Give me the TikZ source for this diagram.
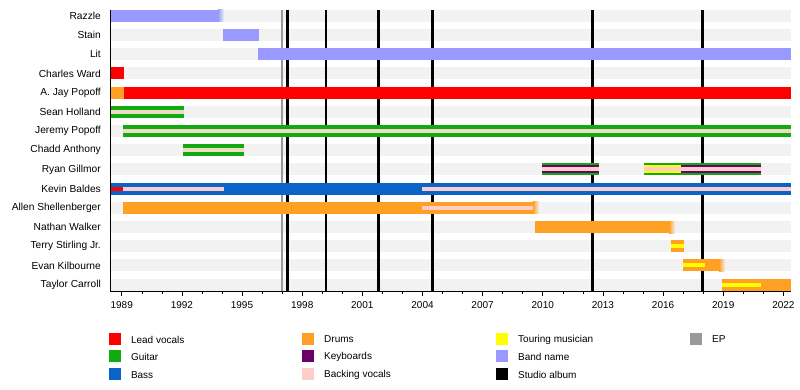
\documentclass[tikz,border=0pt]{standalone}
\usepackage{fontspec}
\setmainfont{Liberation Sans}
\usepackage{tikz, xcolor}

\definecolor{leadvoc}{HTML}{FF0000}
\definecolor{guitar}{HTML}{11AA11}
\definecolor{bass}{HTML}{0A64C8}
\definecolor{drums}{HTML}{FFA024}
\definecolor{keys}{HTML}{6B006B}
\definecolor{backing}{HTML}{FFCCCC}
\definecolor{backgtr}{HTML}{F0DCC4}
\definecolor{touring}{HTML}{FFFF00}
\definecolor{bandname}{HTML}{9999FF}
\definecolor{eprel}{HTML}{999999}
\definecolor{rowbg}{HTML}{F2F2F2}

\begin{document}
\begin{tikzpicture}[x=1pt, y=-1pt]
\tikzstyle{rowlabel}=[anchor=east, inner sep=0pt, font=\fontsize{10.2}{12}\selectfont]
\tikzstyle{yearlabel}=[anchor=center, inner sep=0pt, font=\fontsize{10}{12}\selectfont]
\tikzstyle{keylabel}=[anchor=west, inner sep=0pt, font=\fontsize{10}{12}\selectfont]
\tikzstyle{albumline}=[line width=2.4pt, black]
\tikzstyle{epline}=[line width=2.4pt, eprel]
\tikzstyle{axisline}=[line width=1pt, black]
\tikzstyle{tickmajor}=[line width=0.8pt, black]
\tikzstyle{tickminor}=[line width=0.6pt, black]

\useasboundingbox (0,0) rectangle (800,390);

\fill[rowbg] (110,9.8) rectangle (791,21.8);
\fill[rowbg] (110,29.0) rectangle (791,41.0);
\fill[rowbg] (110,48.2) rectangle (791,60.2);
\fill[rowbg] (110,67.4) rectangle (791,79.4);
\fill[rowbg] (110,86.6) rectangle (791,98.6);
\fill[rowbg] (110,105.8) rectangle (791,117.8);
\fill[rowbg] (110,125.0) rectangle (791,137.0);
\fill[rowbg] (110,144.2) rectangle (791,156.2);
\fill[rowbg] (110,163.4) rectangle (791,175.4);
\fill[rowbg] (110,182.6) rectangle (791,194.6);
\fill[rowbg] (110,201.8) rectangle (791,213.8);
\fill[rowbg] (110,221.0) rectangle (791,233.0);
\fill[rowbg] (110,240.2) rectangle (791,252.2);
\fill[rowbg] (110,259.4) rectangle (791,271.4);
\fill[rowbg] (110,278.6) rectangle (791,290.6);

\draw[epline] (281.7,9.8) -- (281.7,291);
\draw[albumline] (287.3,9.8) -- (287.3,291);
\draw[albumline] (325.7,9.8) -- (325.7,291);
\draw[albumline] (378.3,9.8) -- (378.3,291);
\draw[albumline] (432.3,9.8) -- (432.3,291);
\draw[albumline] (592.3,9.8) -- (592.3,291);
\draw[albumline] (702.3,9.8) -- (702.3,291);

\fill[bandname] (110,9.8) rectangle (218,21.8);
\shade[left color=bandname, right color=rowbg] (218,9.8) rectangle (224,21.8);
\fill[bandname] (223,29.0) rectangle (259,41.0);
\fill[bandname] (258,48.2) rectangle (791,60.2);

\fill[leadvoc] (110,67.4) rectangle (124,79.4);

\fill[drums] (110,86.6) rectangle (124,98.6);
\fill[leadvoc] (124,86.6) rectangle (791,98.6);

\fill[guitar] (110,105.8) rectangle (184,117.8);
\fill[backgtr] (110,109.8) rectangle (184,113.8);

\fill[guitar] (123,125.0) rectangle (791,137.0);
\fill[backgtr] (123,129.0) rectangle (791,133.0);

\fill[guitar] (183,144.2) rectangle (244,156.2);
\fill[backgtr] (183,148.2) rectangle (244,152.2);

\fill[guitar] (542,163.4) rectangle (599,175.4);
\fill[keys] (542,165.4) rectangle (599,173.4);
\fill[backing] (542,167.4) rectangle (599,171.4);
\fill[guitar] (644,163.4) rectangle (761,175.4);
\fill[touring] (644,165.4) rectangle (681,173.4);
\fill[keys] (681,165.4) rectangle (761,173.4);
\fill[backing] (644,167.4) rectangle (761,171.4);

\fill[bass] (110,182.6) rectangle (791,194.6);
\fill[leadvoc] (110,186.6) rectangle (123,190.6);
\fill[backing] (123,186.6) rectangle (224,190.6);
\fill[backing] (422,186.6) rectangle (791,190.6);

\fill[drums] (123,201.8) rectangle (533,213.8);
\fill[backing] (422,205.8) rectangle (533,209.8);
\shade[left color=drums, right color=rowbg] (533,201.8) rectangle (539,213.8);

\fill[drums] (535,221.0) rectangle (669,233.0);
\shade[left color=drums, right color=rowbg] (669,221.0) rectangle (675,233.0);

\fill[drums] (671,240.2) rectangle (684,252.2);
\fill[touring] (671,244.2) rectangle (684,248.2);

\fill[drums] (683,259.4) rectangle (719,271.4);
\shade[left color=drums, right color=rowbg] (719,259.4) rectangle (725,271.4);
\fill[touring] (683,263.4) rectangle (705,267.4);

\fill[drums] (722,278.6) rectangle (791,290.6);
\fill[touring] (722,282.6) rectangle (761,286.6);

\draw[axisline] (110,9.8) -- (110,291) -- (791,291);

\draw[tickmajor] (121.7,291) -- ++(0,5) (181.9,291) -- ++(0,5) (242.0,291) -- ++(0,5)
  (302.2,291) -- ++(0,5) (362.3,291) -- ++(0,5) (422.5,291) -- ++(0,5)
  (482.6,291) -- ++(0,5) (542.8,291) -- ++(0,5) (602.9,291) -- ++(0,5)
  (663.1,291) -- ++(0,5) (723.2,291) -- ++(0,5) (783.4,291) -- ++(0,5);
\draw[tickminor] (141.8,291) -- ++(0,3) (161.8,291) -- ++(0,3) (201.9,291) -- ++(0,3)
  (222.0,291) -- ++(0,3) (262.1,291) -- ++(0,3) (282.1,291) -- ++(0,3)
  (322.2,291) -- ++(0,3) (342.3,291) -- ++(0,3) (382.4,291) -- ++(0,3)
  (402.4,291) -- ++(0,3) (442.5,291) -- ++(0,3) (462.6,291) -- ++(0,3)
  (502.7,291) -- ++(0,3) (522.7,291) -- ++(0,3) (562.8,291) -- ++(0,3)
  (582.9,291) -- ++(0,3) (623.0,291) -- ++(0,3) (643.0,291) -- ++(0,3)
  (683.1,291) -- ++(0,3) (703.2,291) -- ++(0,3) (743.3,291) -- ++(0,3)
  (763.3,291) -- ++(0,3);

\node[rowlabel] (N0) at (101,15.8) {Razzle};
\node[rowlabel] (N1) at (101,35.0) {Stain};
\node[rowlabel] (N2) at (101,54.2) {Lit};
\node[rowlabel] (N3) at (101,73.4) {Charles Ward};
\node[rowlabel] (N4) at (101,92.6) {A. Jay Popoff};
\node[rowlabel] (N5) at (101,111.8) {Sean Holland};
\node[rowlabel] (N6) at (101,131.0) {Jeremy Popoff};
\node[rowlabel] (N7) at (101,150.2) {Chadd Anthony};
\node[rowlabel] (N8) at (101,169.4) {Ryan Gillmor};
\node[rowlabel] (N9) at (101,188.6) {Kevin Baldes};
\node[rowlabel] (N10) at (101,207.8) {Allen Shellenberger};
\node[rowlabel] (N11) at (101,227.0) {Nathan Walker};
\node[rowlabel] (N12) at (101,246.2) {Terry Stirling Jr.};
\node[rowlabel] (N13) at (101,265.4) {Evan Kilbourne};
\node[rowlabel] (N14) at (101,284.6) {Taylor Carroll};

\node[yearlabel] (Y1989) at (121.7,305) {1989};
\node[yearlabel] (Y1992) at (181.9,305) {1992};
\node[yearlabel] (Y1995) at (242.0,305) {1995};
\node[yearlabel] (Y1998) at (302.2,305) {1998};
\node[yearlabel] (Y2001) at (362.3,305) {2001};
\node[yearlabel] (Y2004) at (422.5,305) {2004};
\node[yearlabel] (Y2007) at (482.6,305) {2007};
\node[yearlabel] (Y2010) at (542.8,305) {2010};
\node[yearlabel] (Y2013) at (602.9,305) {2013};
\node[yearlabel] (Y2016) at (663.1,305) {2016};
\node[yearlabel] (Y2019) at (723.2,305) {2019};
\node[yearlabel] (Y2022) at (783.4,305) {2022};

\fill[leadvoc] (108.7,332.5) rectangle (120.7,344.5);
\fill[guitar] (108.7,350.1) rectangle (120.7,362.1);
\fill[bass] (108.7,367.7) rectangle (120.7,379.7);
\fill[drums] (301.7,332.5) rectangle (313.7,344.5);
\fill[keys] (301.7,350.1) rectangle (313.7,362.1);
\fill[backing] (301.7,367.7) rectangle (313.7,379.7);
\fill[touring] (495.5,332.5) rectangle (507.5,344.5);
\fill[bandname] (495.5,350.1) rectangle (507.5,362.1);
\fill[black] (495.5,367.7) rectangle (507.5,379.7);
\fill[eprel] (689.6,332.5) rectangle (701.6,344.5);

\node[keylabel] (K0) at (130.8,339.5) {Lead vocals};
\node[keylabel] (K1) at (130.8,357.1) {Guitar};
\node[keylabel] (K2) at (130.8,374.7) {Bass};
\node[keylabel] (K3) at (324,339.5) {Drums};
\node[keylabel] (K4) at (324,357.1) {Keyboards};
\node[keylabel] (K5) at (324,374.7) {Backing vocals};
\node[keylabel] (K6) at (518,339.5) {Touring musician};
\node[keylabel] (K7) at (518,357.1) {Band name};
\node[keylabel] (K8) at (518,374.7) {Studio album};
\node[keylabel] (K9) at (712,339.5) {EP};
\end{tikzpicture}
\end{document}
